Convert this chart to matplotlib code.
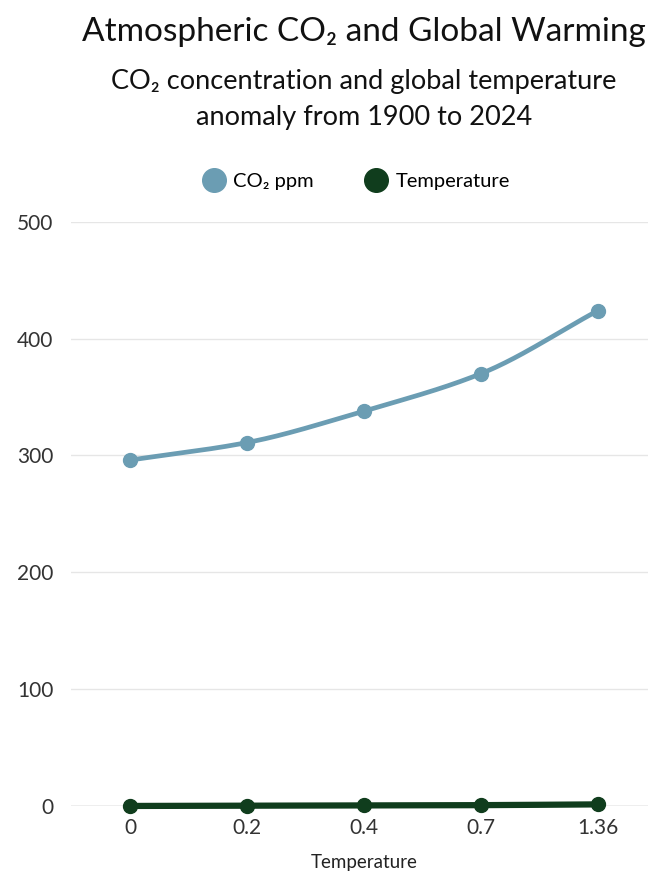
import numpy as np
import matplotlib
matplotlib.use("Agg")
import matplotlib.pyplot as plt
from matplotlib.lines import Line2D

plt.rcParams['font.family'] = ['Lato', 'DejaVu Sans']

categories = ["0", "0.2", "0.4", "0.7", "1.36"]
co2_ppm = [296, 311, 338, 370, 424]
temperature = [0, 0.2, 0.4, 0.7, 1.36]
y_ticks = [0, 100, 200, 300, 400, 500]

title = "Atmospheric CO\u2082 and Global Warming"
subtitle = "CO\u2082 concentration and global temperature\nanomaly from 1900 to 2024"

CO2_COLOR = "#6b9db3"
TEMP_COLOR = "#103d1d"


def monotone_curve(x, y, n=40):
    x = np.asarray(x, float)
    y = np.asarray(y, float)
    h = np.diff(x)
    d = np.diff(y) / h
    m = np.zeros_like(y)
    m[0], m[-1] = d[0], d[-1]
    for i in range(1, len(y) - 1):
        if d[i - 1] * d[i] <= 0:
            m[i] = 0
        else:
            w1 = 2 * h[i] + h[i - 1]
            w2 = h[i] + 2 * h[i - 1]
            m[i] = (w1 + w2) / (w1 / d[i - 1] + w2 / d[i])
    xs, ys = [], []
    for i in range(len(x) - 1):
        t = np.linspace(0, 1, n)
        h00 = 2 * t**3 - 3 * t**2 + 1
        h10 = t**3 - 2 * t**2 + t
        h01 = -2 * t**3 + 3 * t**2
        h11 = t**3 - t**2
        xs.append(x[i] + t * h[i])
        ys.append(h00 * y[i] + h10 * h[i] * m[i] + h01 * y[i + 1] + h11 * h[i] * m[i + 1])
    return np.concatenate(xs), np.concatenate(ys)


fig = plt.figure(figsize=(6.48, 8.75), dpi=100)
ax = fig.add_axes([0.1103, 0.0789, 0.9028, 0.6677])

xpos = np.arange(len(categories))

cx, cy = monotone_curve(xpos, co2_ppm)
ax.plot(cx, cy, color=CO2_COLOR, lw=3.4, solid_capstyle='round', zorder=3, clip_on=False)
ax.plot(xpos, co2_ppm, 'o', color=CO2_COLOR, ms=10, zorder=4, clip_on=False)

tx, ty = monotone_curve(xpos, temperature)
ax.plot(tx, ty, color=TEMP_COLOR, lw=4.5, solid_capstyle='round', zorder=3, clip_on=False)
ax.plot(xpos, temperature, 'o', color=TEMP_COLOR, ms=10, zorder=4, clip_on=False)

ax.set_xlim(-0.5, len(categories) - 0.5)
ax.set_ylim(0, 500)
ax.set_yticks(y_ticks)
ax.set_yticklabels([str(v) for v in y_ticks])
ax.set_xticks(xpos)
ax.set_xticklabels(categories)

for s in ax.spines.values():
    s.set_visible(False)
ax.grid(axis='y', color='#e6e6e6', lw=1)
ax.axhline(0, color='#bdbdbd', lw=1, zorder=1)
ax.set_axisbelow(True)
ax.tick_params(axis='both', length=0, labelsize=15, colors='#333333')
ax.tick_params(axis='y', pad=13)
ax.tick_params(axis='x', pad=9)
ax.set_xlabel("Temperature", fontsize=13.5, color='#222222', labelpad=11)

fig.text(0.562, 0.9635, title, ha='center', va='center', fontsize=24, color='#111111')
fig.text(0.562, 0.8865, subtitle, ha='center', va='center', fontsize=19.5, color='#111111',
         linespacing=1.55)

handles = [
    Line2D([], [], marker='o', ls='none', color=CO2_COLOR, ms=17, label="CO\u2082 ppm"),
    Line2D([], [], marker='o', ls='none', color=TEMP_COLOR, ms=17, label="Temperature"),
]
fig.legend(handles=handles, loc='center', bbox_to_anchor=(0.549, 0.793), ncol=2,
           frameon=False, fontsize=14.5, handletextpad=0.35, columnspacing=2.5,
           handlelength=1.2)

fig.savefig("out.png", dpi=100, facecolor='white')
